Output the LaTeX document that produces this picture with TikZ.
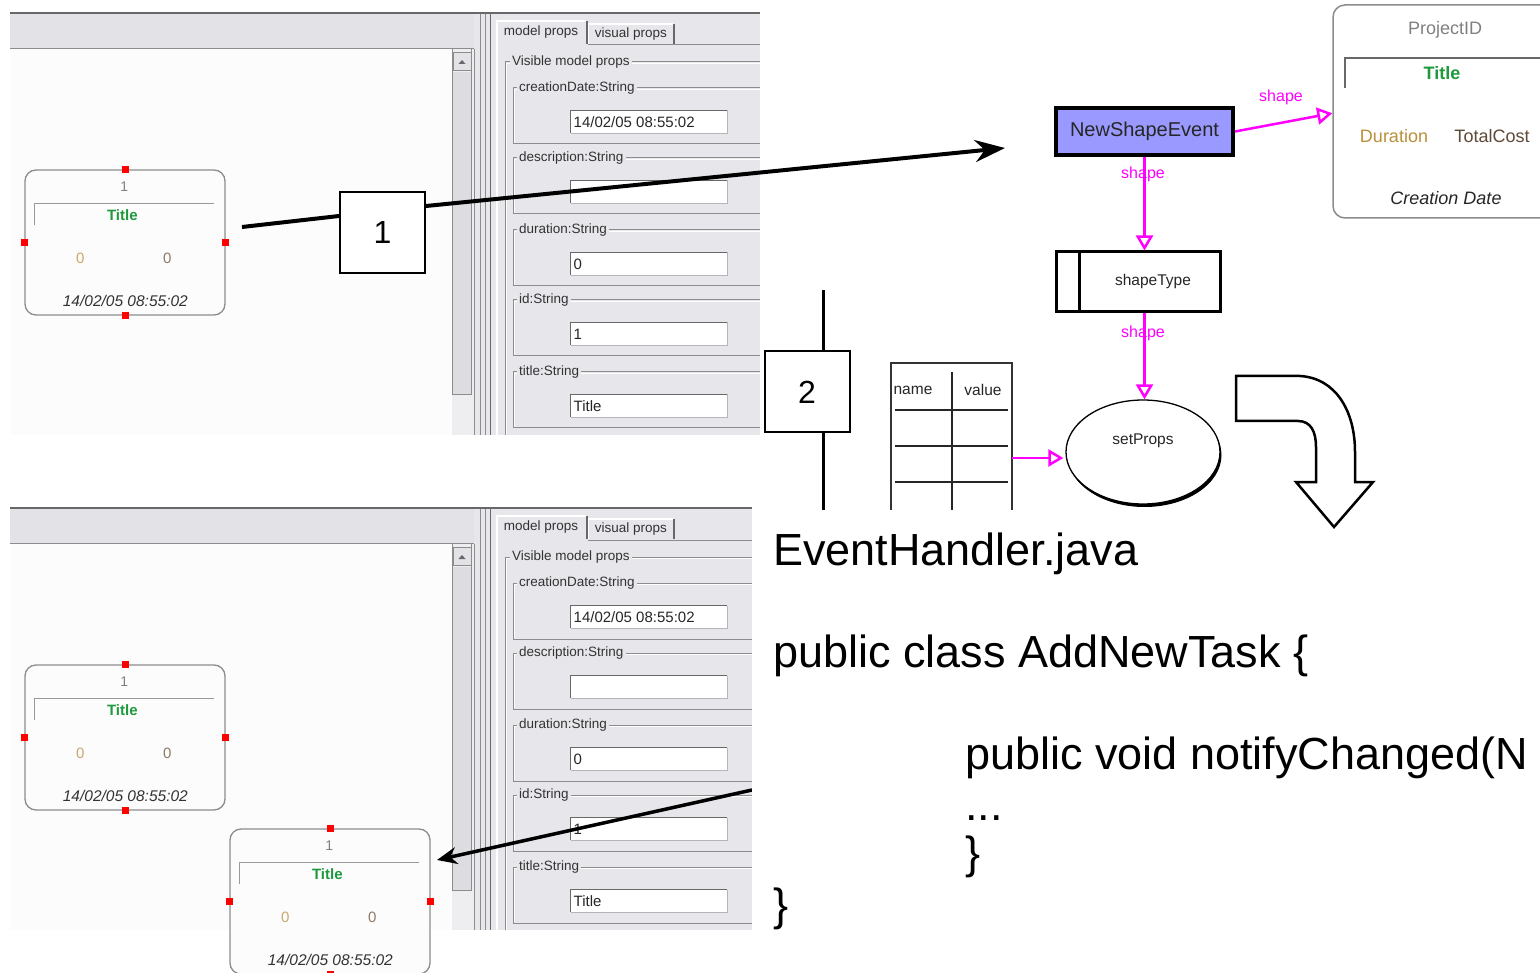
\documentclass[tikz,border=0pt]{standalone}
\usepackage{fontspec}
\setmainfont{Liberation Sans}
\usetikzlibrary{arrows.meta,shapes.geometric}

\definecolor{bandgray}{HTML}{E2E2E7}
\definecolor{panelgray}{HTML}{E6E6EB}
\definecolor{trackgray}{HTML}{EEEEF1}
\definecolor{thumbgray}{HTML}{DCDCE1}
\definecolor{edgegray}{HTML}{8C8C8C}
\definecolor{darkedge}{HTML}{686868}
\definecolor{canvaswhite}{HTML}{FCFCFC}
\definecolor{titlegreen}{HTML}{1E9A3C}
\definecolor{durgold}{HTML}{B8913A}
\definecolor{costbrown}{HTML}{5E4A36}
\definecolor{zerogold}{HTML}{C9A86A}
\definecolor{zerobrown}{HTML}{8C7A66}
\definecolor{eventblue}{HTML}{9999FF}
\definecolor{linkmagenta}{HTML}{FF00FF}

\newcommand\fs[1]{\fontsize{#1}{#1}\selectfont}

\tikzset{
  ui/.style={font=\fs{13.5}, text=black!80, inner sep=0pt},
  grouplabel/.style={ui, fill=panelgray, inner xsep=2pt, inner ysep=1pt, anchor=west},
  fieldtext/.style={font=\fs{15}, text=black!85, inner sep=0pt, anchor=west},
  taskbox/.style={draw=edgegray, line width=1.3pt, rounded corners=11pt,
    minimum width=200pt, minimum height=145pt, fill=canvaswhite, inner sep=0pt},
  tasknum/.style={font=\fs{14}, text=gray, inner sep=0pt},
  tasktitle/.style={font=\bfseries\fs{15}, text=titlegreen, inner sep=0pt},
  taskdate/.style={font=\itshape\fs{15.5}, text=black!80, inner sep=0pt},
  handle/.style={fill=red},
  numbox/.style={draw, line width=2pt, fill=white, minimum width=85pt,
    minimum height=81pt, inner sep=0pt, font=\fs{32}},
  bigline/.style={line width=4pt, black},
  evbox/.style={draw, line width=4pt, fill=eventblue, minimum width=177pt,
    minimum height=47pt, inner sep=0pt, font=\fs{20}, text=black!85},
  projbox/.style={draw=edgegray, line width=1.5pt, rounded corners=12pt,
    minimum width=228pt, minimum height=213pt, inner sep=0pt},
  stbox/.style={draw, line width=3pt, minimum width=164pt, minimum height=60pt, inner sep=0pt},
  diagtext/.style={font=\fs{18}, inner sep=0pt},
  smalltext/.style={font=\fs{15.5}, text=black!85, inner sep=0pt},
  link/.style={linkmagenta, line width=2.5pt,
    -{Triangle[open, length=15pt, width=17pt]}},
  linklabel/.style={font=\fs{16}, text=linkmagenta, inner sep=0pt},
  code/.style={font=\fs{45}, anchor=base west, inner sep=0pt},
}

% one property row of the property sheet: right edge, label y, label, value
\newcommand\proprow[4]{%
  \draw[edgegray, line width=1pt] (#1,#2) -- (513,#2) -- (513,#2+56) -- (#1,#2+56);
  \draw[white, line width=1pt] (#1,#2+1.3) -- (514.3,#2+1.3) -- (514.3,#2+54.7);
  \node[grouplabel] at (517,#2) {#3};
  \fill[white] (570,#2+22) rectangle (727,#2+45);
  \draw[darkedge, line width=1.3pt] (570.5,#2+45) -- (570.5,#2+22.5) -- (727,#2+22.5);
  \draw[bandgray!80!black, line width=0.8pt] (571,#2+45) -- (727,#2+45) -- (727,#2+22.5);
  \node[fieldtext] at (573.5,#2+34) {#4};
}

% editor window: canvas with scroll bar and the property sheet; #1 = right edge
\newcommand\editorshot[1]{%
  \fill[bandgray] (10,12) rectangle (#1,49);
  \draw[darkedge, line width=1.6pt] (10,12.8) -- (#1,12.8);
  \draw[edgegray, line width=1.2pt] (10,48.4) -- (474,48.4);
  \fill[canvaswhite] (10,49) rectangle (452,435);
  % scroll bar
  \fill[trackgray] (452,49) rectangle (474,435);
  \fill[thumbgray] (453,72) rectangle (471,395);
  \draw[edgegray, line width=1pt] (452.5,49) -- (452.5,395) -- (471.5,395) -- (471.5,49);
  \draw[edgegray, line width=0.8pt, fill=bandgray] (453,52) rectangle (471,70);
  \fill[darkedge] (458.5,64) -- (465.5,64) -- (462,60) -- cycle;
  % splitter
  \fill[panelgray] (474,14) rectangle (490,435);
  \draw[edgegray, line width=1pt] (474,49) -- (474,435);
  \draw[edgegray, line width=1pt] (480,14) -- (480,435);
  \draw[edgegray, line width=1pt] (485.5,14) -- (485.5,435);
  \draw[darkedge, line width=1pt] (490,14) -- (490,435);
  % property sheet
  \fill[panelgray] (490.5,14) rectangle (#1,435);
  \draw[white, line width=1.2pt] (497,435) -- (497,21) -- (586,21);
  \draw[darkedge, line width=1.2pt] (587,21) -- (587,44);
  \draw[white, line width=1.2pt] (588.5,44) -- (588.5,24) -- (673,24);
  \draw[darkedge, line width=1.2pt] (674,24) -- (674,44);
  \draw[edgegray, line width=1pt] (588,45) -- (#1,45);
  \node[ui] at (541,32) {model props};
  \node[ui] at (631,34) {visual props};
  % group frame
  \draw[edgegray, line width=1pt] (#1,62) -- (505,62) -- (505,435);
  \draw[white, line width=1pt] (#1,63.3) -- (506.3,63.3) -- (506.3,435);
  \node[grouplabel] at (510,62) {Visible model props};
  \proprow{#1}{88}{creationDate:String}{14/02/05 08:55:02}
  \proprow{#1}{158}{description:String}{}
  \proprow{#1}{230}{duration:String}{0}
  \proprow{#1}{300}{id:String}{1}
  \proprow{#1}{372}{title:String}{Title}
}

% task figure on the canvas: name, left x, top y
\newcommand\taskcard[3]{%
  \node[taskbox] (#1) at (#2+100,#3+72.5) {};
  \begin{scope}[shift={(#1.north west)}]
    \node[tasknum] at (100,17) {1};
    \draw[gray!80, line width=1.3pt] (10,56) -- (10,34) -- (190,34);
    \node[tasktitle] at (98,46) {Title};
    \node[font=\fs{15}, text=zerogold, inner sep=0pt] at (56,89) {0};
    \node[font=\fs{15}, text=zerobrown, inner sep=0pt] at (143,89) {0};
    \node[taskdate] at (101,132) {14/02/05 08:55:02};
  \end{scope}
  \foreach \a in {north,south,east,west}
    \fill[handle] (#1.\a) ++(-3.5,-3.5) rectangle ++(7,7);
}

\begin{document}
\begin{tikzpicture}[x=1pt, y=-1pt]
\useasboundingbox (0,0) rectangle (1540,973);
\clip (0,0) rectangle (1540,973);
\fill[white] (0,0) rectangle (1540,973);

% ---- editor before the change
\editorshot{760}
\taskcard{cardA}{25}{170}

% ---- editor after the change
\begin{scope}[shift={(0,495)}]
  \editorshot{752}
\end{scope}
\taskcard{cardB}{25}{665}
\taskcard{cardC}{230}{829}

% ---- step 1: the new shape raises an event
\node[numbox] (b1) at (382.5,232.5) {1};
\coordinate (s1) at (242,227);
\coordinate (t1) at (1005,148);
\draw[bigline] (s1) -- ([yshift=-25pt]b1.north west);
\draw[bigline, -{Stealth[length=30pt, width=22pt]}] ([yshift=-15pt]b1.north east) -- (t1);

% ---- step 2
\node[numbox] (b2) at (807,392) {2};
\coordinate (v2a) at (823,290);
\coordinate (v2b) at (823,510);
\draw[line width=3pt] (v2a) -- (v2a |- b2.north);
\draw[line width=3pt] (v2a |- b2.south) -- (v2b);

% ---- the handler moves the figure
\coordinate (s3) at (752,790);
\coordinate (t3) at (437,860);
\draw[line width=3.5pt, -{Stealth[length=20pt, width=17pt]}] (s3) -- (t3);

% ---- event model
\node[projbox] (proj) at (1447,111.5) {};
\node[diagtext, text=gray] at (1445,30) {ProjectID};
\draw[darkedge, line width=2pt] (1345,88) -- (1345,58) -- (1560,58);
\node[diagtext, font=\bfseries\fs{18}, text=titlegreen] at (1442,73) {Title};
\node[diagtext, text=durgold] at (1394,136) {Duration};
\node[diagtext, text=costbrown] at (1492,136) {TotalCost};
\node[diagtext, font=\itshape\fs{18}, text=black!85] at (1446,198) {Creation Date};

\node[evbox] (nse) at (1144.5,131.5) {NewShapeEvent};
\node[stbox] (st) at (1138,282) {};
\draw[line width=3pt] ([xshift=25pt]st.north west) -- ([xshift=25pt]st.south west);
\node[smalltext] at (1153,281) {shapeType};

\fill[black] (1144.5,455) ellipse (77pt and 52pt);
\node[ellipse, draw, line width=1.3pt, fill=white, minimum width=154pt,
      minimum height=104pt, inner sep=0pt] (sp) at (1143,452) {};
\node[smalltext] at (1143,441) {setProps};

% property table
\node[minimum width=121pt, minimum height=147pt, inner sep=0pt] (tbl) at (951.5,436.5) {};
\draw[black!80, line width=2pt] (tbl.south west) -- (tbl.north west) -- (tbl.north east) -- (tbl.south east);
\draw[black!85, line width=1.6pt] (952,372) -- (952,510);
\foreach \ry in {410,446,482}
  \draw[black!85, line width=2pt] (895,\ry) -- (1008,\ry);
\node[smalltext] at (913,390) {name};
\node[smalltext] at (983,390) {value};

% links
\draw[link] (nse.east) -- ([yshift=-109pt]proj.north west);
\node[linklabel] at (1281,97) {shape};
\draw[link] (nse.south) -- (nse.south |- st.north);
\node[linklabel] at (1143,174) {shape};
\draw[link] (nse.south |- st.south) -- (nse.south |- sp.north);
\node[linklabel] at (1143,333) {shape};
\draw[link] ([yshift=-21.5pt]tbl.east) -- ([xshift=-2pt, yshift=-6pt]sp.west);

% ---- code listing
\fill[white] (752,510) rectangle (1540,973);
\draw[line width=2.5pt, fill=white, line join=miter]
  (1236,376) -- (1300,376) .. controls (1335,378) and (1355,410) .. (1355,452)
  -- (1355,482) -- (1373,482) -- (1334,527) -- (1296,482) -- (1316,482)
  -- (1316,447) .. controls (1316,432) and (1311,421) .. (1298,421)
  -- (1236,421) -- cycle;

\node[code] at (773,565) {EventHandler.java};
\node[code] at (773,667) {public class AddNewTask \{};
\node[code] at (965,769) {public void notifyChanged(N};
\node[code] at (965,820) {...};
\node[code] at (965,868) {\}};
\node[code] at (773,920) {\}};
\end{tikzpicture}
\end{document}
